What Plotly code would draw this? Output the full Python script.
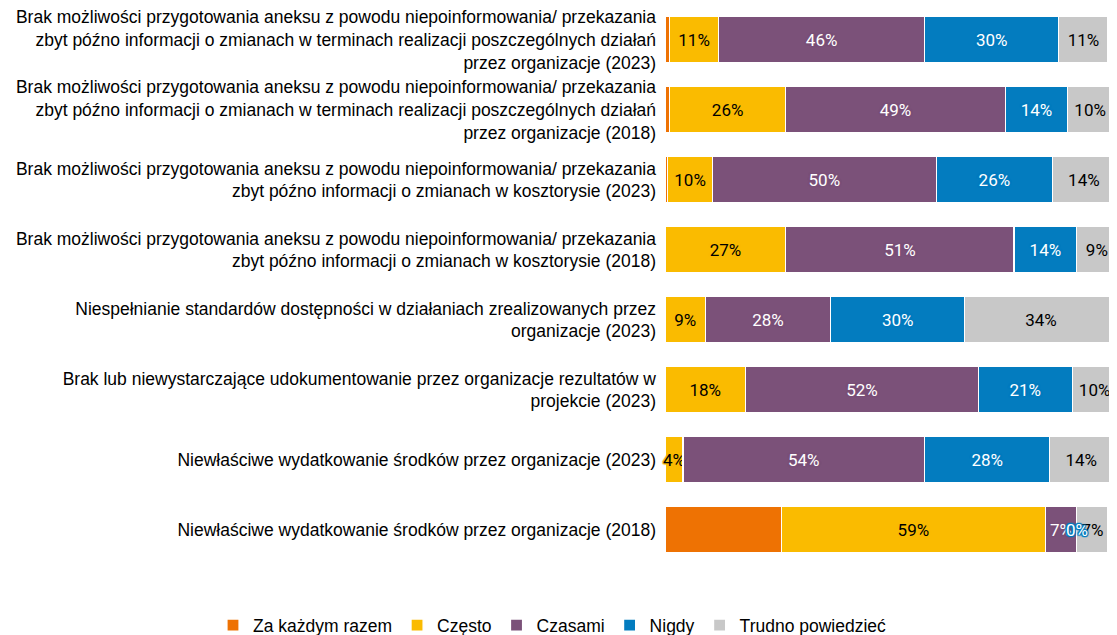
import plotly.graph_objects as go

categories = [
    "Brak możliwości przygotowania aneksu z powodu niepoinformowania/ przekazania<br>zbyt późno informacji o zmianach w terminach realizacji poszczególnych działań<br>przez organizacje (2023)",
    "Brak możliwości przygotowania aneksu z powodu niepoinformowania/ przekazania<br>zbyt późno informacji o zmianach w terminach realizacji poszczególnych działań<br>przez organizacje (2018)",
    "Brak możliwości przygotowania aneksu z powodu niepoinformowania/ przekazania<br>zbyt późno informacji o zmianach w kosztorysie (2023)",
    "Brak możliwości przygotowania aneksu z powodu niepoinformowania/ przekazania<br>zbyt późno informacji o zmianach w kosztorysie (2018)",
    "Niespełnianie standardów dostępności w działaniach zrealizowanych przez<br>organizacje (2023)",
    "Brak lub niewystarczające udokumentowanie przez organizacje rezultatów w<br>projekcie (2023)",
    "Niewłaściwe wydatkowanie środków przez organizacje (2023)",
    "Niewłaściwe wydatkowanie środków przez organizacje (2018)",
]

za_kazdym_razem = [1, 1, 0.6, 0, 0, 0, 0, 26]
czesto = [11, 26, 10, 27, 9, 18, 4, 59]
czasami = [46, 49, 50, 51, 28, 52, 54, 7]
nigdy = [30, 14, 26, 14, 30, 21, 28, 0]
trudno = [11, 10, 14, 9, 34, 10, 14, 7]

series = [
    ("Za każdym razem", za_kazdym_razem, "#EE7203", "white", False),
    ("Często", czesto, "#FABB00", "black", True),
    ("Czasami", czasami, "#7B5179", "white", True),
    ("Nigdy", nigdy, "#037CBF", "white", True),
    ("Trudno powiedzieć", trudno, "#C8C8C8", "black", True),
]


def halo_for(color):
    return ", ".join(f"{dx}px {dy}px 1px {color}" for dx, dy in
                     [(1, 0), (-1, 0), (0, 1), (0, -1), (1, 1), (-1, -1), (1, -1), (-1, 1)])


fig = go.Figure()
cum = [0.0] * len(categories)
for name, vals, color, tcolor, show_text in series:
    fig.add_trace(go.Bar(
        name=name,
        y=categories,
        x=vals,
        orientation="h",
        marker=dict(color=color, line=dict(color="white", width=1.2)),
        text=[f"{v:.0f}%" for v in vals] if show_text else None,
        textposition="inside" if show_text else "none",
        insidetextanchor="middle",
        textangle=0,
        textfont=dict(family="Roboto", size=17, color=tcolor, shadow=halo_for(color)),
        cliponaxis=False,
        hoverinfo="x+name",
    ))
    # zero-valued segments still carry a visible "0%" label in the original
    if show_text:
        for i, v in enumerate(vals):
            if v == 0:
                fig.add_annotation(
                    x=cum[i], y=categories[i], xref="x", yref="y",
                    text="0%", showarrow=False, xanchor="center",
                    font=dict(family="Roboto", size=17, color=tcolor, shadow=halo_for(color)),
                )
    cum = [c + v for c, v in zip(cum, vals)]

fig.update_layout(
    barmode="stack",
    bargap=0.34,
    width=1109,
    height=627,
    margin=dict(l=657, r=0, t=0, b=67, autoexpand=False),
    plot_bgcolor="white",
    paper_bgcolor="white",
    uniformtext=dict(minsize=17, mode="show"),
    xaxis=dict(range=[0, 101], visible=False, fixedrange=True, automargin=False),
    yaxis=dict(
        range=[7.543, -0.457],
        tickfont=dict(family="Liberation Sans", size=17.5, color="black"),
        showgrid=False,
        ticks="",
        ticklabelstandoff=8,
        fixedrange=True,
        automargin=False,
    ),
    legend=dict(
        orientation="h",
        xref="paper",
        x=-1.0,
        xanchor="left",
        yref="paper",
        y=-0.07,
        yanchor="top",
        font=dict(family="Liberation Sans", size=17.5, color="black"),
        traceorder="normal",
    ),
    font=dict(family="Liberation Sans"),
)

fig.write_html("out.html")
